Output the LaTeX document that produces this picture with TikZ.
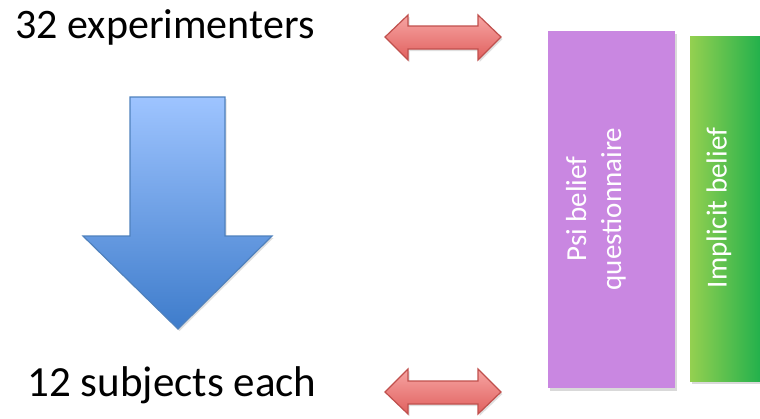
\documentclass[tikz,border=0pt]{standalone}
\usepackage{fontspec}
\setmainfont{Carlito}
\usetikzlibrary{shadows}
\definecolor{redline}{HTML}{C0504D}
\definecolor{redtop}{HTML}{F7A5A3}
\definecolor{redbot}{HTML}{E0605E}
\definecolor{bluetop}{HTML}{9EC4FF}
\definecolor{bluebot}{HTML}{3E7CCB}
\definecolor{blueline}{HTML}{4F81BD}
\definecolor{purplebox}{HTML}{C987E1}
\definecolor{greenl}{HTML}{94D050}
\definecolor{greenr}{HTML}{20B04C}
\tikzset{
  bigtext/.style={font=\fontsize{42}{48}\selectfont, text=black, inner sep=0pt},
  boxtext/.style={font=\fontsize{29}{35}\selectfont, text=white, align=center, rotate=90, inner sep=0pt},
  redarrow/.style={draw=redline, line width=1.2pt, line join=miter, top color=redtop, bottom color=redbot,
     drop shadow={shadow xshift=1.5pt, shadow yshift=-2pt, opacity=0.25}},
  bluearrow/.style={draw=blueline, line width=1.2pt, top color=bluetop, bottom color=bluebot,
     drop shadow={shadow xshift=1.5pt, shadow yshift=-2pt, opacity=0.25}},
  boxshadow/.style={drop shadow={shadow xshift=2pt, shadow yshift=-3pt, opacity=0.3}}
}
\begin{document}
\begin{tikzpicture}[x=1pt,y=-1pt]
\useasboundingbox (0,0) rectangle (760,418);
% texts
\node[bigtext] (exp) at (165,27) {32 experimenters};
\node[bigtext, font=\fontsize{43}{48}\selectfont] (subj) at (172,385) {12 subjects each};
% blue down arrow
\path[bluearrow] (130,97) -- (225,97) -- (225,236) -- (272,236) -- (178,329) -- (83,236) -- (130,236) -- cycle;
% red double arrows
\path[redarrow] (385,37) -- (408,15) -- (408,26) -- (478,26) -- (478,15) -- (501,37) -- (478,60) -- (478,49) -- (408,49) -- (408,60) -- cycle;
\path[redarrow] (385,392) -- (408,369) -- (408,381) -- (478,381) -- (478,369) -- (501,392) -- (478,414) -- (478,404) -- (408,404) -- (408,414) -- cycle;
% boxes
\path[fill=purplebox, boxshadow] (548,31) rectangle (675,388);
\path[left color=greenl, right color=greenr, boxshadow] (690,36) rectangle (762,381);
\node[boxtext] (psi) at (596,209) {Psi belief\\questionnaire};
\node[boxtext] (impl) at (719,208) {Implicit belief};
\end{tikzpicture}
\end{document}
